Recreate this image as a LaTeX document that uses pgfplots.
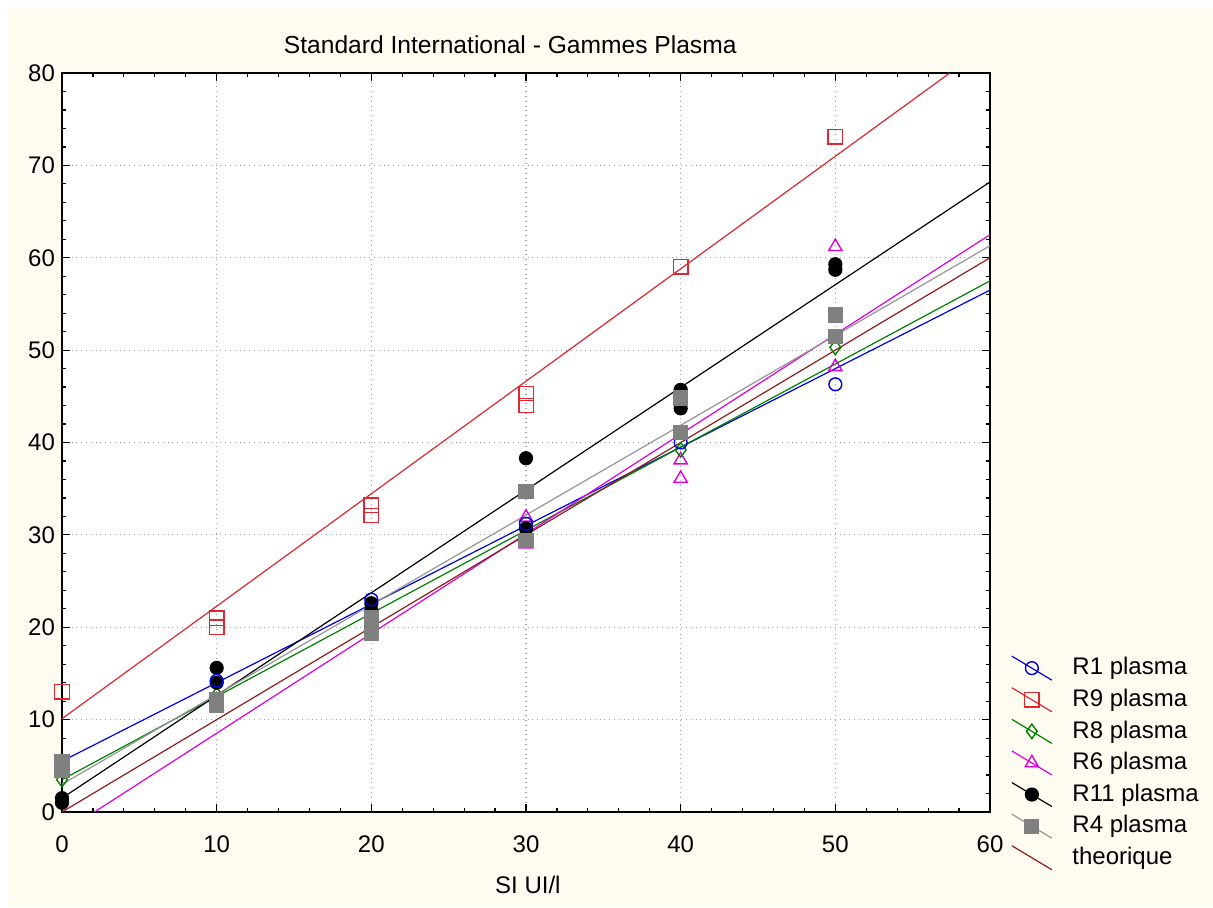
\documentclass[border=0pt]{standalone}
\usepackage{fontspec}
\setmainfont{Liberation Sans}
\usepackage{pgfplots}
\pgfplotsset{compat=1.18}
\definecolor{bgcream}{RGB}{254,251,240}
\definecolor{rone}{RGB}{0,0,225}
\definecolor{rnine}{RGB}{220,40,50}
\definecolor{reight}{RGB}{0,130,0}
\definecolor{rsix}{RGB}{220,0,220}
\definecolor{rfour}{RGB}{128,128,128}
\definecolor{rfourline}{RGB}{150,150,150}
\definecolor{theo}{RGB}{140,30,30}
\definecolor{gridgray}{RGB}{165,165,165}

\begin{document}
\begin{tikzpicture}
\fill[white] (0pt,0pt) rectangle (606.5pt,453.5pt);
\fill[bgcream] (4pt,0pt) rectangle (606.5pt,450pt);
\begin{axis}[
    at={(31pt,47.5pt)}, anchor=south west,
    scale only axis,
    width=464pt, height=369.5pt,
    xmin=0, xmax=60, ymin=0, ymax=80,
    xtick={0,10,...,60}, ytick={0,10,...,80},
    minor x tick num=4, minor y tick num=4,
    tick align=inside,
    major tick length=4pt, minor tick length=2pt,
    tick style={black, line width=0.6pt},
    axis line style={line width=1pt},
    axis background/.style={fill=white},
    grid=major,
    major grid style={gridgray, dotted, line width=0.6pt},
    clip=false,
    /pgf/number format/assume math mode=true,
    ticklabel style={font=\fontsize{12}{14}\selectfont},
    xticklabel style={yshift=-8.5pt},
    title={Standard International - Gammes Plasma},
    title style={font=\fontsize{12.3}{14}\selectfont, at={(0.483,1)}, anchor=center, yshift=8pt},
    xlabel={SI UI/l},
    xlabel style={font=\fontsize{12}{14}\selectfont, at={(0.502,0)}, anchor=center, yshift=-36.5pt},
    legend style={at={(1.016,0.222)}, anchor=north west, draw=none, fill=none,
        font=\fontsize{12}{14}\selectfont,
        nodes={text height=9.3pt, text depth=2.5pt, inner sep=2pt},
        cells={anchor=west}},
    legend image code/.code={\draw[#1, mark repeat=2, mark phase=2]
        plot coordinates {(0pt,6pt) (10pt,0pt) (20pt,-6pt)};
        \path (28pt,0pt);},
    every axis plot/.append style={line width=0.6pt, mark options={solid, line width=0.7pt}},
]
\addlegendimage{rone, mark=o, mark size=3.2pt}\addlegendentry{R1 plasma}
\addlegendimage{rnine, mark=square, mark size=3.6pt}\addlegendentry{R9 plasma}
\addlegendimage{reight, mark=diamond, mark size=3.6pt}\addlegendentry{R8 plasma}
\addlegendimage{rsix, mark=triangle, mark size=3.8pt}\addlegendentry{R6 plasma}
\addlegendimage{black, mark=*, mark size=3.2pt}\addlegendentry{R11 plasma}
\addlegendimage{rfourline, mark=square*, mark size=3.5pt, mark options={fill=rfour, draw=rfour}}\addlegendentry{R4 plasma}
\addlegendimage{theo}\addlegendentry{theorique}

% regression lines
\addplot[forget plot, rone] coordinates {(0,5.5) (60,56.5)};
\addplot[forget plot, rnine] coordinates {(0,10.1) (57.4,80)};
\addplot[forget plot, reight] coordinates {(0,3.5) (60,57.5)};
\addplot[forget plot, rsix] coordinates {(2.1,0) (60,62.5)};
\addplot[forget plot, black] coordinates {(0,1.5) (60,68.2)};
\addplot[forget plot, rfourline] coordinates {(0,3) (60,61.3)};
\addplot[forget plot, theo] coordinates {(0,0) (60,60)};

% points
\addplot[forget plot, only marks, rsix, mark=triangle, mark size=3.8pt] coordinates {
    (10,11.5) (20,19.8) (30,31.9) (30,29) (40,38.1) (40,36.1) (50,61.2) (50,48.2)};
\addplot[forget plot, only marks, reight, mark=diamond, mark size=3.6pt] coordinates {
    (0,3.5) (10,12.7) (20,22) (30,30.3) (40,39.2) (50,50.3)};
\addplot[forget plot, only marks, black, mark=*, mark size=3.2pt] coordinates {
    (0,1.5) (0,1) (10,15.6) (10,14) (20,22.6) (20,21.8) (30,38.3) (30,30.7)
    (40,45.7) (40,43.7) (50,59.3) (50,58.7)};
\addplot[forget plot, only marks, rone, mark=o, mark size=3.2pt] coordinates {
    (0,5) (10,14.2) (20,23) (30,31.2) (40,40) (50,46.3)};
\addplot[forget plot, only marks, rfour, mark=square*, mark size=3.5pt] coordinates {
    (0,5.4) (0,4.5) (10,11.6) (10,12.2) (20,19.4) (20,21) (30,34.7) (30,29.4)
    (40,44.8) (40,41.1) (50,53.8) (50,51.5)};
\addplot[forget plot, only marks, rnine, mark=square, mark size=3.6pt] coordinates {
    (0,13) (10,20) (10,21) (20,32.1) (20,33.2) (30,44) (30,45.3) (40,59) (50,73.1)};
\end{axis}
\end{tikzpicture}
\end{document}
